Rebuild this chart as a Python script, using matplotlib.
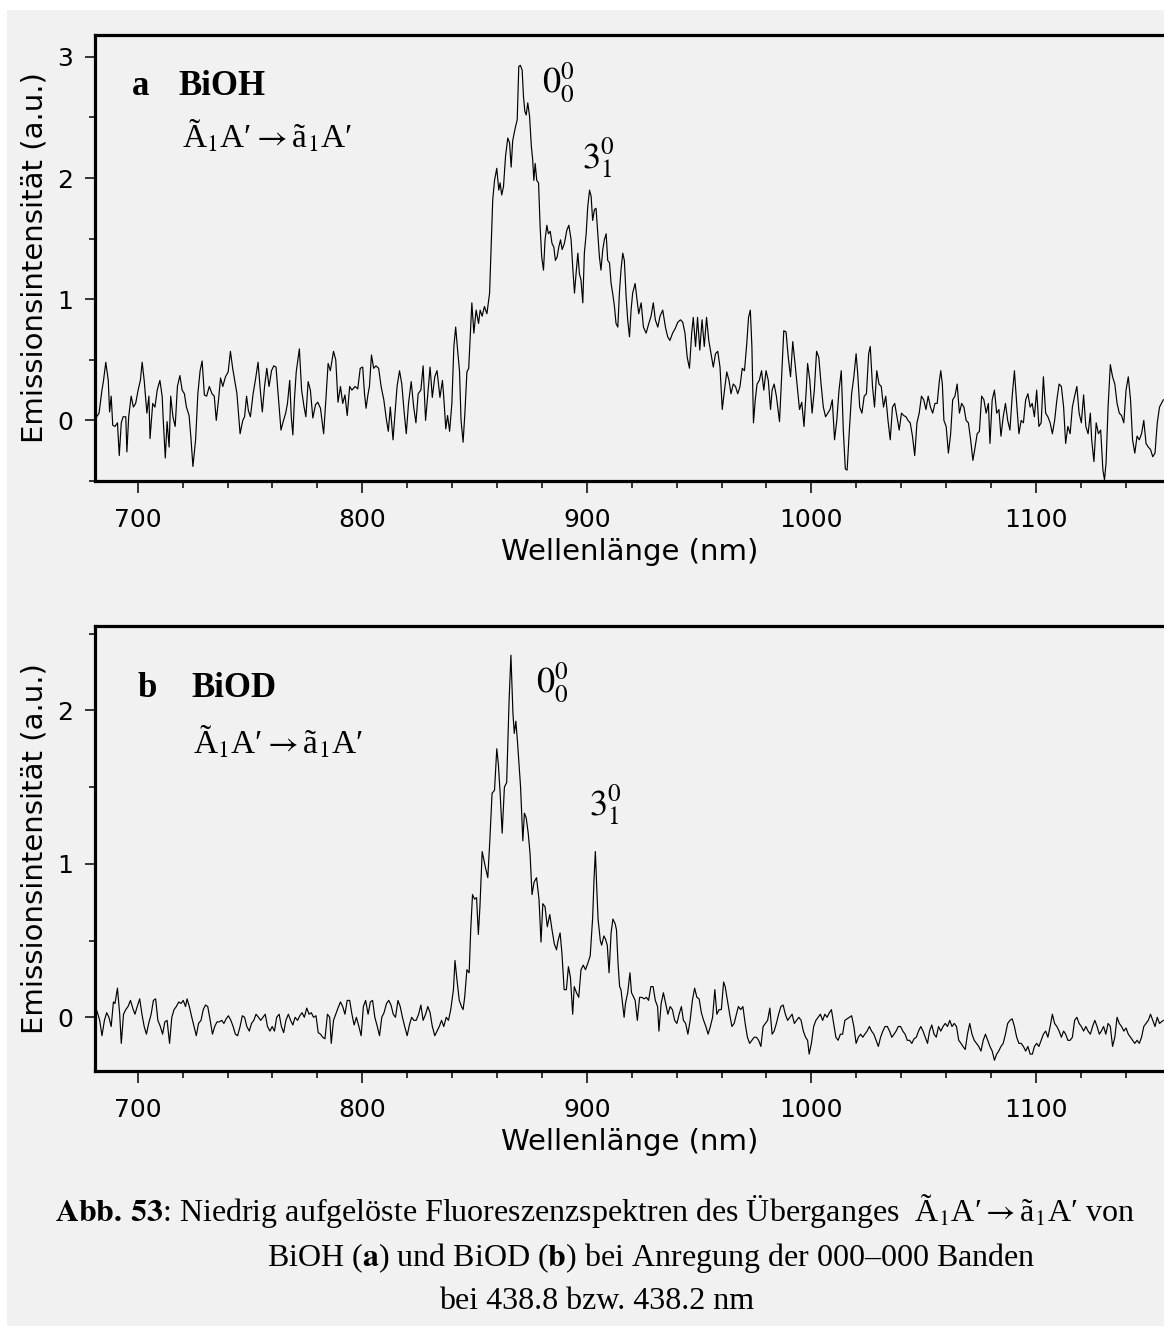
import matplotlib
matplotlib.use("Agg")
import matplotlib.pyplot as plt
from matplotlib.patches import Rectangle
from matplotlib.ticker import MultipleLocator

# BiOH spectrum (panel a)
wl_a = [681.4, 682.8, 684.1, 684.8, 685.8, 686.9, 687.5, 688.2, 688.9, 689.9,
        691.0, 691.8, 692.7, 693.5, 694.7, 695.2, 696.0, 697.1, 698.1, 699.1,
        700.2, 701.2, 702.0, 702.9, 704.1, 705.0, 705.5, 706.7, 707.7, 708.7,
        709.9, 710.9, 711.4, 712.3, 713.1, 714.0, 714.7, 715.7, 716.7, 717.7,
        718.8, 719.8, 720.8, 721.7, 722.9, 723.7, 724.6, 725.8, 726.8, 727.8,
        728.7, 729.7, 730.7, 731.9, 733.1, 734.1, 735.0, 736.0, 736.9, 737.9,
        739.1, 740.3, 741.3, 742.3, 743.2, 744.2, 745.6, 746.8, 747.6, 748.5,
        749.3, 750.2, 751.4, 752.4, 753.6, 754.6, 755.5, 756.5, 757.5, 758.5,
        759.6, 760.6, 761.6, 762.6, 763.8, 764.8, 765.9, 766.7, 767.7, 768.4,
        769.1, 769.8, 770.6, 772.0, 773.0, 774.1, 774.9, 775.9, 776.9, 778.0,
        779.2, 780.2, 781.4, 782.8, 783.8, 784.8, 785.8, 787.2, 788.2, 789.2,
        790.3, 791.3, 792.3, 793.3, 794.4, 795.4, 796.8, 798.0, 799.1, 800.2,
        801.0, 801.7, 802.6, 803.2, 804.1, 805.1, 806.1, 807.3, 808.4, 809.6,
        810.8, 811.6, 812.5, 813.7, 814.7, 815.5, 816.6, 817.6, 818.6, 819.6,
        820.6, 821.8, 822.9, 823.9, 824.9, 826.1, 827.1, 828.2, 829.2, 830.2,
        831.2, 832.3, 833.3, 834.6, 835.7, 836.3, 837.2, 838.0, 838.9, 839.9,
        840.8, 841.6, 842.5, 843.3, 844.0, 844.9, 845.7, 846.6, 847.4, 848.8,
        849.7, 850.7, 851.8, 852.5, 853.4, 854.4, 855.5, 856.7, 857.4, 858.1,
        858.9, 859.9, 860.8, 861.4, 862.1, 862.9, 863.8, 864.8, 865.6, 866.3,
        867.0, 868.2, 869.0, 869.7, 870.4, 871.2, 871.8, 872.4, 873.0, 873.7,
        874.5, 875.3, 875.9, 876.4, 877.0, 877.7, 878.5, 879.2, 879.9, 880.7,
        881.4, 882.2, 882.9, 883.7, 884.5, 885.3, 886.0, 886.8, 887.5, 888.3,
        889.0, 890.0, 891.1, 892.0, 893.0, 893.7, 894.5, 895.2, 896.0, 896.7,
        897.4, 898.2, 898.9, 899.7, 900.4, 901.2, 901.9, 902.6, 903.4, 904.1,
        904.9, 905.6, 906.3, 907.1, 907.8, 908.6, 909.3, 910.1, 910.8, 911.5,
        912.3, 913.0, 913.8, 914.5, 915.2, 916.0, 916.7, 917.5, 918.2, 919.0,
        919.7, 920.4, 921.5, 922.2, 923.1, 924.2, 925.2, 926.4, 927.6, 928.6,
        929.6, 930.5, 931.6, 932.6, 933.8, 935.0, 936.0, 937.0, 938.2, 939.4,
        940.5, 941.7, 942.7, 943.7, 944.7, 945.7, 946.7, 947.4, 948.4, 949.3,
        950.3, 951.3, 952.3, 953.3, 954.3, 955.3, 956.3, 957.3, 958.3, 959.3,
        960.3, 961.3, 962.3, 963.3, 964.2, 965.2, 966.2, 967.2, 968.2, 969.2,
        970.2, 971.2, 972.0, 972.8, 973.5, 974.2, 975.0, 975.8, 976.8, 977.8,
        978.8, 979.8, 980.8, 981.8, 982.5, 983.4, 984.4, 985.8, 986.8, 987.7,
        988.7, 989.7, 990.7, 991.7, 992.7, 993.7, 994.7, 995.7, 996.7, 997.7,
        998.3, 999.3, 1000.3, 1001.3, 1002.3, 1003.3, 1004.3, 1005.3, 1006.3, 1007.3,
        1008.3, 1009.3, 1010.3, 1011.3, 1012.3, 1013.3, 1014.2, 1015.1, 1015.9, 1016.9,
        1017.9, 1018.9, 1019.9, 1020.6, 1021.5, 1022.5, 1023.5, 1024.5, 1025.5, 1026.2,
        1027.2, 1028.1, 1029.1, 1030.1, 1031.1, 1032.1, 1033.1, 1034.1, 1035.1, 1036.1,
        1037.1, 1038.1, 1039.1, 1040.1, 1041.1, 1042.1, 1043.0, 1044.0, 1045.0, 1046.0,
        1047.0, 1048.0, 1049.0, 1050.0, 1051.0, 1052.0, 1053.0, 1054.0, 1055.0, 1056.0,
        1057.0, 1057.6, 1058.3, 1059.0, 1060.0, 1061.0, 1062.0, 1062.9, 1063.9, 1064.9,
        1065.9, 1066.9, 1067.9, 1068.9, 1069.9, 1070.9, 1071.9, 1072.9, 1073.8, 1074.8,
        1075.8, 1076.8, 1077.8, 1078.8, 1079.5, 1080.5, 1081.5, 1082.5, 1083.5, 1084.4,
        1085.4, 1086.4, 1087.4, 1088.4, 1089.4, 1090.4, 1091.4, 1092.4, 1093.4, 1094.4,
        1095.4, 1096.4, 1097.4, 1098.3, 1099.3, 1100.3, 1101.3, 1102.3, 1103.3, 1104.3,
        1105.3, 1106.3, 1107.3, 1108.3, 1109.3, 1110.3, 1111.3, 1112.3, 1113.2, 1114.2,
        1115.2, 1116.2, 1117.2, 1118.2, 1119.2, 1120.2, 1121.2, 1122.2, 1123.2, 1124.2,
        1124.8, 1125.8, 1126.8, 1127.8, 1128.8, 1129.8, 1130.5, 1131.2, 1132.1, 1133.1,
        1134.1, 1135.1, 1136.1, 1137.1, 1138.1, 1139.1, 1140.1, 1141.1, 1142.1, 1143.0,
        1144.0, 1145.0, 1146.0, 1147.0, 1148.0, 1149.0, 1150.0, 1151.0, 1152.0, 1153.0,
        1154.0, 1155.0, 1156.7]
int_a = [0.02, 0.06, 0.25, 0.33, 0.48, 0.33, 0.07, 0.20, -0.04, -0.05,
         -0.02, -0.29, -0.02, 0.03, 0.03, -0.26, 0.03, 0.20, 0.11, 0.14,
         0.25, 0.33, 0.48, 0.33, 0.06, 0.20, -0.15, 0.14, 0.11, 0.25,
         0.33, 0.20, 0.00, -0.31, -0.01, -0.22, 0.20, 0.03, -0.05, 0.28,
         0.37, 0.25, 0.22, 0.11, 0.04, -0.14, -0.38, -0.16, 0.22, 0.41,
         0.49, 0.21, 0.20, 0.28, 0.22, 0.20, 0.00, 0.17, 0.35, 0.28,
         0.36, 0.40, 0.57, 0.43, 0.33, 0.22, -0.11, 0.00, 0.03, 0.20,
         0.08, 0.03, 0.22, 0.33, 0.48, 0.25, 0.07, 0.28, 0.43, 0.28,
         0.41, 0.45, 0.44, 0.20, -0.08, -0.01, 0.06, 0.14, 0.33, 0.03,
         -0.12, 0.17, 0.40, 0.59, 0.25, 0.11, 0.03, 0.32, 0.25, 0.02,
         0.13, 0.15, 0.10, -0.11, 0.17, 0.47, 0.41, 0.57, 0.50, 0.15,
         0.28, 0.14, 0.21, 0.04, 0.28, 0.25, 0.28, 0.26, 0.43, 0.44,
         0.22, 0.10, 0.22, 0.28, 0.54, 0.43, 0.45, 0.43, 0.28, 0.17,
         0.00, -0.09, 0.11, -0.16, 0.08, 0.28, 0.41, 0.30, 0.08, -0.11,
         0.14, 0.32, 0.11, -0.02, 0.22, 0.25, 0.45, 0.00, 0.22, 0.44,
         0.19, 0.36, 0.41, 0.19, 0.33, 0.19, -0.07, 0.04, -0.09, 0.14,
         0.61, 0.77, 0.57, 0.41, 0.00, -0.18, 0.06, 0.40, 0.43, 0.97,
         0.72, 0.91, 0.80, 0.91, 0.86, 0.94, 0.88, 1.05, 1.43, 1.82,
         1.98, 2.08, 1.90, 1.96, 1.86, 1.93, 2.18, 2.33, 2.29, 2.09,
         2.31, 2.42, 2.48, 2.92, 2.93, 2.89, 2.67, 2.55, 2.52, 2.62,
         2.51, 2.26, 2.15, 1.98, 2.12, 1.98, 1.96, 1.60, 1.35, 1.24,
         1.49, 1.61, 1.54, 1.56, 1.46, 1.43, 1.32, 1.35, 1.43, 1.49,
         1.41, 1.46, 1.57, 1.61, 1.49, 1.27, 1.05, 1.21, 1.38, 1.21,
         1.16, 0.97, 1.38, 1.54, 1.76, 1.90, 1.85, 1.65, 1.74, 1.75,
         1.54, 1.35, 1.24, 1.41, 1.49, 1.54, 1.32, 1.30, 1.13, 1.05,
         0.94, 0.80, 0.77, 1.05, 1.24, 1.38, 1.32, 1.02, 0.83, 0.69,
         0.91, 1.05, 1.13, 1.02, 0.88, 0.97, 0.77, 0.72, 0.80, 0.86,
         0.97, 0.83, 0.77, 0.86, 0.91, 0.77, 0.69, 0.66, 0.72, 0.76,
         0.81, 0.83, 0.81, 0.72, 0.52, 0.43, 0.72, 0.85, 0.61, 0.85,
         0.58, 0.83, 0.61, 0.85, 0.66, 0.55, 0.44, 0.55, 0.57, 0.44,
         0.09, 0.25, 0.40, 0.33, 0.22, 0.30, 0.28, 0.22, 0.28, 0.43,
         0.41, 0.63, 0.85, 0.91, 0.61, -0.02, 0.17, 0.30, 0.33, 0.41,
         0.25, 0.41, 0.33, 0.09, 0.25, 0.30, 0.20, -0.01, 0.39, 0.74,
         0.73, 0.52, 0.36, 0.65, 0.47, 0.28, 0.09, 0.15, -0.05, 0.25,
         0.47, 0.33, 0.06, 0.25, 0.57, 0.52, 0.30, 0.11, 0.03, 0.06,
         0.09, 0.17, -0.16, 0.00, 0.25, 0.41, -0.08, -0.40, -0.41, -0.08,
         0.22, 0.36, 0.55, 0.39, 0.11, 0.06, 0.20, 0.22, 0.55, 0.61,
         0.28, 0.11, 0.41, 0.30, 0.28, 0.11, 0.20, 0.00, -0.16, 0.11,
         0.14, 0.03, -0.08, 0.06, 0.04, 0.03, 0.00, -0.02, -0.13, -0.29,
         -0.02, 0.06, 0.20, 0.17, 0.09, 0.20, 0.11, 0.06, 0.14, 0.14,
         0.33, 0.41, 0.30, 0.00, -0.05, -0.27, -0.11, 0.17, 0.20, 0.30,
         0.06, 0.14, 0.11, 0.00, -0.02, -0.16, -0.33, -0.22, -0.11, -0.09,
         0.20, 0.17, 0.06, 0.14, -0.19, 0.17, 0.25, 0.06, 0.09, -0.13,
         0.03, 0.14, 0.00, -0.08, 0.20, 0.41, 0.14, -0.11, 0.00, -0.02,
         0.17, 0.22, 0.11, 0.14, 0.03, 0.25, -0.05, -0.02, 0.36, 0.06,
         0.03, -0.02, -0.11, 0.00, 0.17, 0.30, 0.28, 0.11, -0.19, -0.05,
         -0.11, 0.11, 0.20, 0.28, 0.06, -0.02, 0.21, -0.05, -0.11, 0.06,
         -0.16, -0.34, -0.02, -0.11, -0.08, -0.41, -0.49, -0.35, 0.11, 0.46,
         0.36, 0.30, 0.14, 0.06, 0.04, -0.02, 0.25, 0.36, 0.17, -0.16,
         -0.27, -0.13, -0.16, -0.11, 0.00, -0.19, -0.22, -0.24, -0.30, -0.27,
         -0.02, 0.11, 0.17]

# BiOD spectrum (panel b)
wl_b = [681.1, 682.1, 683.1, 684.1, 685.2, 686.2, 687.2, 688.2, 689.2, 689.9,
        691.0, 692.0, 692.7, 693.7, 694.7, 695.7, 696.8, 697.8, 698.8, 699.8,
        700.9, 701.9, 702.9, 703.9, 704.9, 706.0, 707.0, 708.0, 709.0, 710.1,
        711.1, 712.1, 713.1, 714.2, 715.2, 716.2, 717.2, 718.3, 719.3, 720.3,
        721.3, 722.0, 723.0, 724.1, 725.1, 726.1, 727.1, 728.2, 729.2, 730.2,
        731.2, 732.3, 733.3, 734.3, 735.3, 736.3, 737.4, 738.4, 739.4, 740.4,
        741.5, 742.5, 743.5, 744.5, 745.6, 746.6, 747.6, 748.6, 749.7, 750.7,
        751.7, 752.7, 753.8, 754.8, 755.8, 756.8, 757.8, 758.9, 759.9, 760.9,
        761.9, 763.0, 764.0, 765.0, 766.0, 767.1, 768.1, 769.1, 770.1, 771.2,
        772.2, 773.2, 774.2, 775.3, 776.3, 777.3, 778.3, 779.4, 780.4, 781.4,
        782.4, 783.4, 784.5, 785.5, 786.2, 787.2, 788.2, 789.2, 790.3, 791.3,
        792.3, 793.3, 794.4, 795.4, 796.4, 797.4, 798.5, 799.5, 800.5, 801.5,
        802.6, 803.6, 804.6, 805.6, 806.7, 807.7, 808.7, 809.7, 810.8, 811.8,
        812.8, 813.8, 814.8, 815.9, 816.9, 817.9, 818.9, 820.0, 821.0, 822.0,
        823.0, 824.0, 825.1, 826.1, 827.1, 828.2, 829.2, 830.2, 831.2, 832.3,
        833.3, 834.3, 835.3, 836.3, 837.4, 838.4, 839.4, 840.6, 841.3, 842.2,
        843.2, 844.2, 844.9, 845.6, 846.6, 847.6, 848.3, 849.1, 850.0, 850.9,
        851.7, 852.4, 853.4, 854.8, 855.9, 856.8, 857.8, 858.9, 859.9, 860.6,
        861.4, 862.3, 863.3, 864.3, 865.4, 866.2, 867.1, 867.7, 868.4, 869.1,
        869.8, 870.5, 871.5, 872.2, 873.0, 873.9, 874.7, 875.6, 876.5, 877.6,
        878.7, 879.6, 880.4, 881.4, 882.4, 883.5, 884.5, 885.5, 886.5, 887.2,
        888.1, 888.9, 889.9, 890.9, 891.8, 892.7, 893.7, 894.4, 895.4, 896.4,
        897.4, 898.4, 899.4, 900.4, 901.5, 902.6, 903.2, 903.8, 904.4, 905.0,
        906.0, 906.6, 907.6, 908.3, 909.1, 909.9, 910.8, 911.6, 912.6, 913.2,
        913.9, 914.6, 915.2, 915.9, 916.6, 917.2, 918.2, 919.2, 919.9, 920.9,
        921.5, 922.5, 923.5, 924.5, 925.5, 926.5, 927.5, 928.5, 929.5, 930.5,
        931.5, 932.1, 933.1, 934.1, 935.1, 936.1, 937.1, 938.1, 939.1, 940.1,
        941.1, 942.1, 943.0, 944.0, 945.0, 946.0, 947.0, 948.0, 949.0, 950.0,
        951.0, 952.0, 953.0, 954.0, 955.0, 956.0, 957.0, 957.9, 958.9, 959.9,
        960.9, 961.6, 962.6, 963.6, 964.6, 965.6, 966.6, 967.5, 968.5, 969.5,
        970.5, 971.5, 972.5, 973.5, 974.5, 975.5, 976.5, 977.5, 978.5, 979.5,
        980.5, 981.5, 982.5, 983.4, 984.4, 985.4, 986.4, 987.4, 988.4, 989.4,
        990.4, 991.4, 992.4, 993.4, 994.4, 995.4, 996.4, 997.4, 998.3, 999.0,
        1000.0, 1001.0, 1002.0, 1003.0, 1004.0, 1005.0, 1006.0, 1007.0, 1008.0, 1008.9,
        1009.9, 1010.9, 1011.9, 1012.9, 1013.9, 1014.9, 1015.9, 1016.9, 1017.9, 1018.9,
        1019.9, 1020.9, 1021.9, 1022.9, 1023.8, 1024.8, 1025.8, 1026.8, 1027.8, 1028.8,
        1029.8, 1030.8, 1031.8, 1032.8, 1033.8, 1034.8, 1035.8, 1036.8, 1037.7, 1038.7,
        1039.7, 1040.7, 1041.7, 1042.7, 1043.7, 1044.7, 1045.7, 1046.7, 1047.7, 1048.7,
        1049.7, 1050.7, 1051.7, 1052.6, 1053.6, 1054.6, 1055.6, 1056.6, 1057.6, 1058.6,
        1059.6, 1060.6, 1061.6, 1062.6, 1063.6, 1064.6, 1065.6, 1066.6, 1067.5, 1068.5,
        1069.5, 1070.5, 1071.5, 1072.5, 1073.5, 1074.5, 1075.5, 1076.5, 1077.5, 1078.5,
        1079.5, 1080.5, 1081.5, 1082.5, 1083.4, 1084.4, 1085.4, 1086.4, 1087.4, 1088.4,
        1089.4, 1090.4, 1091.4, 1092.4, 1093.4, 1094.4, 1095.4, 1096.4, 1097.4, 1098.4,
        1099.3, 1100.3, 1101.3, 1102.3, 1103.3, 1104.3, 1105.3, 1106.3, 1107.3, 1108.3,
        1109.3, 1110.3, 1111.3, 1112.3, 1113.2, 1114.2, 1115.2, 1116.2, 1117.2, 1118.2,
        1119.2, 1120.2, 1121.2, 1122.2, 1123.2, 1124.2, 1125.2, 1126.2, 1127.2, 1128.2,
        1129.1, 1130.1, 1131.1, 1132.1, 1133.1, 1134.1, 1135.1, 1136.1, 1137.1, 1138.1,
        1139.1, 1140.1, 1141.1, 1142.1, 1143.0, 1144.0, 1145.0, 1146.0, 1147.0, 1148.0,
        1149.0, 1150.0, 1151.0, 1152.0, 1153.0, 1154.0, 1155.0, 1156.7]
int_b = [0.07, 0.03, -0.02, -0.12, -0.02, 0.03, 0.00, -0.06, 0.10, 0.09,
         0.19, 0.02, -0.17, 0.02, 0.05, 0.07, 0.11, 0.06, 0.02, 0.07,
         0.12, 0.02, -0.06, -0.11, -0.04, 0.02, 0.11, 0.12, -0.02, -0.06,
         -0.11, -0.03, -0.02, -0.17, 0.00, 0.05, 0.07, 0.10, 0.09, 0.11,
         0.07, 0.12, 0.07, 0.00, -0.06, -0.12, -0.04, -0.02, 0.05, 0.08,
         0.07, -0.02, -0.11, -0.06, -0.03, -0.03, -0.02, -0.04, -0.01, 0.01,
         -0.02, -0.06, -0.11, -0.12, -0.06, 0.01, 0.00, -0.06, -0.09, -0.04,
         -0.02, 0.02, 0.00, -0.02, 0.00, 0.02, -0.06, -0.09, -0.06, -0.09,
         0.00, 0.02, -0.06, -0.10, -0.02, 0.02, -0.02, -0.05, 0.00, -0.02,
         0.01, 0.03, 0.00, 0.06, 0.02, 0.03, 0.00, 0.01, -0.10, -0.11,
         -0.13, -0.14, 0.02, 0.00, -0.17, -0.02, 0.02, 0.06, 0.10, 0.07,
         0.02, 0.11, 0.11, 0.02, -0.05, 0.00, -0.06, -0.12, 0.07, 0.11,
         0.02, 0.10, 0.11, 0.00, -0.06, -0.12, 0.00, 0.03, 0.09, 0.11,
         0.08, 0.02, 0.00, 0.11, 0.07, 0.00, -0.06, -0.12, -0.05, 0.00,
         -0.02, -0.02, 0.02, 0.08, -0.02, 0.02, 0.07, 0.03, -0.06, -0.12,
         -0.09, -0.06, -0.02, -0.06, 0.00, -0.02, 0.05, 0.18, 0.37, 0.24,
         0.11, 0.07, 0.05, 0.13, 0.31, 0.29, 0.57, 0.80, 0.77, 0.78,
         0.54, 0.72, 1.08, 0.98, 0.91, 1.15, 1.46, 1.48, 1.75, 1.65,
         1.46, 1.20, 1.50, 1.53, 2.07, 2.36, 1.98, 1.85, 1.93, 1.80,
         1.65, 1.50, 1.15, 1.33, 1.30, 1.20, 1.07, 0.80, 0.88, 0.91,
         0.77, 0.49, 0.74, 0.72, 0.59, 0.67, 0.57, 0.48, 0.44, 0.50,
         0.55, 0.42, 0.18, 0.18, 0.33, 0.26, 0.02, 0.20, 0.16, 0.13,
         0.31, 0.34, 0.31, 0.35, 0.40, 0.65, 0.90, 1.08, 0.85, 0.64,
         0.50, 0.47, 0.53, 0.51, 0.47, 0.29, 0.55, 0.64, 0.61, 0.57,
         0.35, 0.20, 0.18, 0.09, 0.00, 0.09, 0.16, 0.29, 0.16, 0.13,
         0.11, -0.02, 0.13, 0.13, 0.12, 0.13, 0.11, 0.20, 0.20, 0.11,
         0.07, -0.09, 0.09, 0.16, 0.09, 0.02, 0.07, 0.05, -0.02, -0.04,
         0.02, 0.07, -0.02, -0.04, -0.11, -0.02, 0.11, 0.19, 0.13, 0.12,
         0.03, -0.02, -0.06, -0.11, -0.06, 0.00, 0.18, 0.02, 0.05, 0.05,
         0.23, 0.20, 0.11, 0.02, -0.06, -0.04, 0.02, 0.07, 0.05, 0.07,
         -0.04, -0.13, -0.17, -0.15, -0.13, -0.13, -0.15, -0.19, -0.06, -0.04,
         -0.02, 0.06, -0.11, -0.09, -0.04, 0.02, 0.07, 0.08, 0.02, -0.02,
         0.00, 0.02, -0.04, -0.02, 0.00, -0.02, -0.09, -0.13, -0.15, -0.24,
         -0.17, -0.06, -0.02, 0.00, 0.02, -0.02, 0.02, 0.00, 0.03, 0.05,
         -0.04, -0.13, -0.15, -0.11, -0.11, -0.02, -0.01, 0.00, 0.01, -0.06,
         -0.17, -0.13, -0.11, -0.13, -0.11, -0.09, -0.06, -0.09, -0.11, -0.15,
         -0.19, -0.13, -0.09, -0.06, -0.06, -0.09, -0.13, -0.11, -0.09, -0.06,
         -0.06, -0.09, -0.11, -0.15, -0.15, -0.17, -0.14, -0.13, -0.09, -0.06,
         -0.09, -0.13, -0.17, -0.09, -0.05, -0.11, -0.13, -0.06, -0.09, -0.06,
         -0.04, -0.06, -0.02, -0.06, -0.04, -0.06, -0.15, -0.17, -0.19, -0.21,
         -0.11, -0.04, -0.11, -0.15, -0.17, -0.19, -0.22, -0.15, -0.11, -0.15,
         -0.19, -0.22, -0.28, -0.24, -0.22, -0.19, -0.17, -0.11, -0.04, -0.02,
         -0.01, -0.06, -0.13, -0.17, -0.17, -0.19, -0.22, -0.19, -0.24, -0.24,
         -0.19, -0.17, -0.19, -0.15, -0.11, -0.09, -0.13, -0.06, 0.02, -0.04,
         -0.06, -0.09, -0.13, -0.09, -0.11, -0.15, -0.15, -0.13, -0.02, 0.00,
         -0.04, -0.06, -0.09, -0.06, -0.09, -0.11, -0.06, -0.02, -0.06, -0.11,
         -0.09, -0.06, -0.11, -0.04, -0.06, -0.19, -0.13, 0.00, -0.04, -0.06,
         -0.09, -0.07, -0.11, -0.13, -0.15, -0.17, -0.15, -0.17, -0.13, -0.06,
         -0.04, -0.02, 0.02, -0.02, -0.06, 0.00, -0.04, -0.02]

x_major = [700, 800, 900, 1000, 1100]

W, H = 1164, 1326

fig = plt.figure(figsize=(W / 100, H / 100), dpi=100)
fig.patch.set_facecolor('white')
fig.patches.append(Rectangle((7 / W, 0), 1, 1 - 10 / H, transform=fig.transFigure,
                             facecolor='#f1f1f1', edgecolor='none', zorder=-10))


def fx(x):
    return x / W


def fy(y):
    return 1 - y / H


def make_panel(top, bottom, wl, inten, ylim, yticks):
    ax = fig.add_axes([fx(95), fy(bottom), 1 - fx(95), (bottom - top) / H])
    ax.set_facecolor('none')
    ax.plot(wl, inten, color='black', lw=0.85)
    ax.set_xlim(681, 1157)
    ax.set_ylim(*ylim)
    ax.spines['right'].set_visible(False)
    for s in ['left', 'bottom', 'top']:
        ax.spines[s].set_linewidth(2.3)
    ax.set_xticks(x_major)
    ax.xaxis.set_minor_locator(MultipleLocator(20))
    ax.set_yticks(yticks)
    ax.yaxis.set_minor_locator(MultipleLocator(0.5))
    ax.tick_params(axis='x', which='major', length=8.6, width=1.1, labelsize=18, pad=11)
    ax.tick_params(axis='x', which='minor', length=5, width=1.1)
    ax.tick_params(axis='y', which='major', length=7, width=1.1, labelsize=18, pad=9)
    ax.tick_params(axis='y', which='minor', length=4, width=1.1)
    ax.set_xlabel('Wellenlänge (nm)', fontsize=21, labelpad=4)
    ax.set_ylabel('Emissionsintensität (a.u.)', fontsize=21, labelpad=6)
    return ax


ax_a = make_panel(35, 481, wl_a, int_a, (-0.5, 3.18), [0, 1, 2, 3])
ax_b = make_panel(626, 1071, wl_b, int_b, (-0.35, 2.55), [0, 1, 2])

serif = dict(family='Liberation Serif', math_fontfamily='stix')
trans = 'Ã$_1$A′$\\rightarrow$ã$_1$A′'

# panel a annotations
fig.text(fx(132), fy(95), 'a', fontsize=25, fontweight='bold', va='baseline', **serif)
fig.text(fx(178), fy(95), 'BiOH', fontsize=25, fontweight='bold', va='baseline', **serif)
fig.text(fx(182), fy(148), trans, fontsize=24, va='baseline', **serif)
fig.text(fx(542), fy(92), '$0_0^0$', fontsize=26, va='baseline', **serif)
fig.text(fx(582), fy(168), '$3_1^0$', fontsize=26, va='baseline', **serif)

# panel b annotations
fig.text(fx(137), fy(697), 'b', fontsize=25, fontweight='bold', va='baseline', **serif)
fig.text(fx(191), fy(697), 'BiOD', fontsize=25, fontweight='bold', va='baseline', **serif)
fig.text(fx(193), fy(753), trans, fontsize=24, va='baseline', **serif)
fig.text(fx(536), fy(692), '$0_0^0$', fontsize=26, va='baseline', **serif)
fig.text(fx(589), fy(815), '$3_1^0$', fontsize=26, va='baseline', **serif)

# caption
fig.text(fx(595), fy(1221),
         '$\\mathbf{Abb.\\,53}$: Niedrig aufgelöste Fluoreszenzspektren des Überganges  '
         'Ã$_1$A′$\\rightarrow$ã$_1$A′ von',
         fontsize=23, ha='center', va='baseline', **serif)
fig.text(fx(651), fy(1266),
         'BiOH ($\\mathbf{a}$) und BiOD ($\\mathbf{b}$) bei Anregung der 000–000 Banden',
         fontsize=23, ha='center', va='baseline', **serif)
fig.text(fx(597), fy(1309), 'bei 438.8 bzw. 438.2 nm',
         fontsize=23, ha='center', va='baseline', **serif)

fig.savefig('out.png', dpi=100)
